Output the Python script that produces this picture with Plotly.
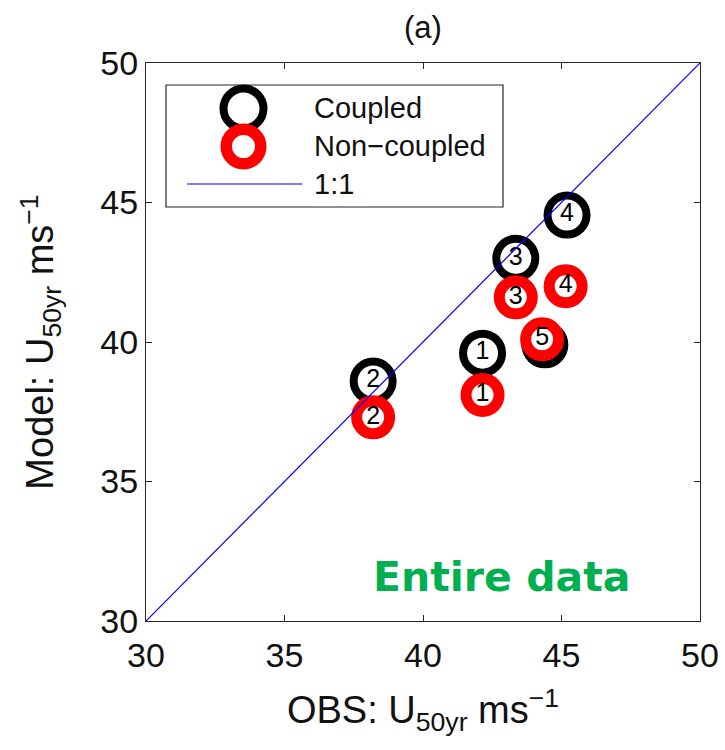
import plotly.graph_objects as go

# ---- data ----
station_labels = ["1", "2", "3", "4", "5"]
obs_coupled = [42.15, 38.2, 43.35, 45.2, 44.4]
model_coupled = [39.6, 38.6, 43.0, 44.55, 39.9]
obs_noncoupled = [42.15, 38.2, 43.35, 45.15, 44.3]
model_noncoupled = [38.1, 37.3, 41.6, 42.0, 40.1]
one_to_one = [30, 50]
tick_vals = [30, 35, 40, 45, 50]

W, H = 725, 750
L, R, T, B = 146, 25, 63, 129
PW, PH = W - L - R, H - T - B

FONT = "Liberation Sans, Arial, sans-serif"


def px(xp):
    return (xp - L) / PW


def py(yp):
    return (H - B - yp) / PH


fig = go.Figure()

fig.add_trace(go.Scatter(
    x=obs_coupled, y=model_coupled, mode="markers+text", text=station_labels,
    textposition="middle center",
    textfont=dict(family=FONT, size=25, color="black"),
    marker=dict(symbol="circle", size=39, color="white",
                line=dict(color="black", width=8)),
    name="Coupled", showlegend=False, cliponaxis=False))

fig.add_trace(go.Scatter(
    x=obs_noncoupled, y=model_noncoupled, mode="markers+text", text=station_labels,
    textposition="middle center",
    textfont=dict(family=FONT, size=25, color="black"),
    marker=dict(symbol="circle", size=33, color="white",
                line=dict(color="#ff0000", width=11)),
    name="Non-coupled", showlegend=False, cliponaxis=False))

fig.add_trace(go.Scatter(
    x=one_to_one, y=one_to_one, mode="lines",
    line=dict(color="#0000ff", width=1.2),
    name="1:1", showlegend=False))

# ---- custom legend ----
shapes = []
shapes.append(dict(type="rect", xref="paper", yref="paper",
                   x0=px(166), x1=px(503), y0=py(207), y1=py(85),
                   line=dict(color="#262626", width=1.2), fillcolor="white",
                   layer="above"))
# black circle
cx, cy, r = 243.5, 108.5, 20
shapes.append(dict(type="circle", xref="paper", yref="paper",
                   x0=px(cx - r), x1=px(cx + r), y0=py(cy + r), y1=py(cy - r),
                   line=dict(color="black", width=8), fillcolor="white",
                   layer="above"))
# red circle
cx, cy, r = 243.5, 146.5, 17.25
shapes.append(dict(type="circle", xref="paper", yref="paper",
                   x0=px(cx - r), x1=px(cx + r), y0=py(cy + r), y1=py(cy - r),
                   line=dict(color="#ff0000", width=11.5), fillcolor="white",
                   layer="above"))
# line
shapes.append(dict(type="line", xref="paper", yref="paper",
                   x0=px(187), x1=px(302), y0=py(184), y1=py(184),
                   line=dict(color="#0000ff", width=1.2), layer="above"))

annotations = []
for label, ypix in [("Coupled", 108), ("Non\u2212coupled", 146), ("1:1", 184)]:
    annotations.append(dict(xref="paper", yref="paper", x=px(312), y=py(ypix),
                            xanchor="left", yanchor="middle", text=label,
                            showarrow=False,
                            font=dict(family=FONT, size=29, color="#111111")))

annotations.append(dict(xref="x", yref="y", x=42.83, y=31.57,
                        xanchor="center", yanchor="middle", text="<b>Entire data</b>",
                        showarrow=False,
                        font=dict(family="DejaVu Sans, Verdana, sans-serif",
                                  size=41, color="#00b050")))

axis_common = dict(
    range=[30, 50], tickmode="array", tickvals=tick_vals,
    ticks="inside", ticklen=6, tickwidth=1, tickcolor="#262626",
    showline=True, linecolor="#262626", linewidth=1.2, mirror="ticks",
    showgrid=False, zeroline=False, automargin=False,
    tickfont=dict(family=FONT, size=34, color="#111111"),
)

fig.update_layout(
    width=W, height=H,
    margin=dict(l=L, r=R, t=T, b=B),
    paper_bgcolor="white", plot_bgcolor="white",
    showlegend=False,
    title=dict(text="(a)", x=(L + PW / 2) / W, xanchor="center",
               y=1 - 27.5 / H, yanchor="middle",
               font=dict(family=FONT, size=31, color="#111111")),
    xaxis=dict(**axis_common, ticklabelstandoff=4,
               title=dict(text="OBS: U<sub>50yr</sub> ms<sup>\u22121</sup>",
                          font=dict(family=FONT, size=38, color="#111111"),
                          standoff=23)),
    yaxis=dict(**axis_common,
               title=dict(text="Model: U<sub>50yr</sub> ms<sup>\u22121</sup>",
                          font=dict(family=FONT, size=38, color="#111111"),
                          standoff=34)),
    shapes=shapes,
    annotations=annotations,
)

fig.write_html("out.html")
